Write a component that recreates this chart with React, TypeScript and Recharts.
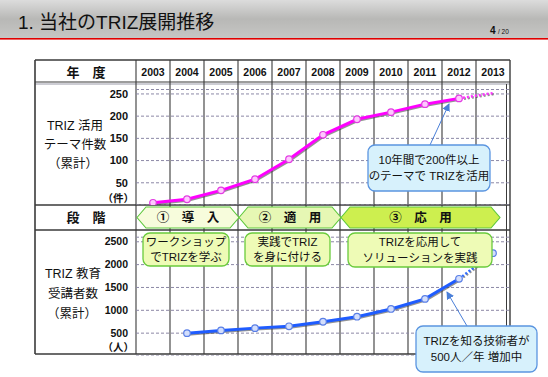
import React from 'react';
import { LineChart, Line, XAxis, YAxis, CartesianGrid } from 'recharts';

// 年度
const years = [2003, 2004, 2005, 2006, 2007, 2008, 2009, 2010, 2011, 2012, 2013];
// TRIZ 活用テーマ件数（累計）
const themeCount = [5, 13, 33, 58, 103, 158, 193, 209, 227, 240, null];
const themeForecast = [null, null, null, null, null, null, null, null, null, 240, 252];
const themeTicks = [50, 100, 150, 200, 250];
// TRIZ 教育受講者数（累計）
const trainees = [null, 500, 560, 610, 650, 750, 860, 1030, 1250, 1690, null];
const traineeForecast = [null, null, null, null, null, null, null, null, null, 1690, 2250];
const traineeTicks = [500, 1000, 1500, 2000, 2500];

const phases = [
  { label: '①　導　入', from: 2003, to: 2005, fill: '#f7fcdc' },
  { label: '②　適　用', from: 2006, to: 2008, fill: '#e6f7b4' },
  { label: '③　応　用', from: 2009, to: 2013, fill: '#cdef4f' },
];

const topData = years.map((y, i) => ({ year: y, count: themeCount[i], forecast: themeForecast[i] }));
const bottomData = years.map((y, i) => ({ year: y, people: trainees[i], forecast: traineeForecast[i] }));

const FONT = "Arial, 'Liberation Sans', 'Noto Sans CJK JP', sans-serif";
const COL_W = 34;
const PLOT_L = 136;
const colX = (i: number) => PLOT_L + i * COL_W;

const tickStyle = { fontSize: 10.5, fontWeight: 700, fill: '#111', fontFamily: FONT };

const Box = ({ x, y, w, h, lines, fill, stroke }: any) => (
  <g>
    <rect x={x} y={y} width={w} height={h} rx={7} fill={fill} stroke={stroke} strokeWidth={1.3} />
    {lines.map((t: string, i: number) => (
      <text key={i} x={x + w / 2} y={y + h / 2 + (i - (lines.length - 1) / 2) * 15.5 + 4} textAnchor="middle" fontSize={11.5} fill="#111">
        {t}
      </text>
    ))}
  </g>
);

const blueDot = (p: any) => {
  if (p.index !== years.length - 1 || p.cy == null) return <g key={p.index} />;
  return <circle key={p.index} cx={p.cx} cy={p.cy} r={3.3} fill="#d3defc" stroke="#5a7fe6" strokeWidth={1.2} />;
};

export default function App() {
  return (
    <div style={{ position: 'absolute', left: 0, top: 0, width: 548, height: 377, background: '#fff', overflow: 'hidden', fontFamily: FONT }}>
      <style>{`.shadowed path, .shadowed circle { filter: drop-shadow(1px 1.5px 0.6px rgba(60,60,60,0.55)); }`}</style>
      <svg width={548} height={377} style={{ position: 'absolute', left: 0, top: 0 }} fontFamily={FONT}>
        <defs>
          <linearGradient id="bar" x1="0" y1="0" x2="0" y2="1">
            <stop offset="0" stopColor="#dcdcdc" />
            <stop offset="0.5" stopColor="#b8b8b6" />
            <stop offset="1" stopColor="#c6c6c4" />
          </linearGradient>
        </defs>
        <rect x={0} y={0} width={548} height={38} fill="url(#bar)" />
        <rect x={0} y={38} width={548} height={1.6} fill="#e00000" />
        <text x={18} y={29} fontSize={19} fill="#111">1. 当社のTRIZ展開推移</text>
        <text x={490} y={34} fontSize={10} fontWeight={700} fill="#111">4</text>
        <text x={498} y={34} fontSize={6.5} fill="#111">/ 20</text>

        {/* table rows */}
        {[60, 205, 230, 354].map((y) => (
          <line key={y} x1={35} x2={510} y1={y} y2={y} stroke="#3a3a3a" strokeWidth={1.4} />
        ))}
        <line x1={35} x2={510} y1={82} y2={82} stroke="#3a3a3a" strokeWidth={1.2} />
        <line x1={35} x2={510} y1={84} y2={84} stroke="#9a9aa8" strokeWidth={1} />
        <line x1={35} x2={35} y1={60} y2={354} stroke="#3a3a3a" strokeWidth={1.6} />
        <line x1={510} x2={510} y1={60} y2={354} stroke="#3a3a3a" strokeWidth={1.4} />
        <line x1={506.5} x2={506.5} y1={84} y2={354} stroke="#3a3a3a" strokeWidth={1} />
        {years.map((y, i) => (
          <line key={y} x1={colX(i)} x2={colX(i)} y1={60} y2={354} stroke="#3a3a3a" strokeWidth={1.1} />
        ))}
        {years.map((y, i) => (
          <text key={y} x={colX(i) + COL_W / 2} y={76} textAnchor="middle" fontSize={10.5} fontWeight={700} fill="#111">{y}</text>
        ))}
        <text x={86} y={77} textAnchor="middle" fontSize={13} fontWeight={700} fill="#111">年　度</text>
        <text x={86} y={222} textAnchor="middle" fontSize={13} fontWeight={700} fill="#111">段　階</text>

        <text x={75} y={130} textAnchor="middle" fontSize={12.5} fill="#111">TRIZ 活用</text>
        <text x={75} y={149} textAnchor="middle" fontSize={12.5} fill="#111">テーマ件数</text>
        <text x={73} y={168} textAnchor="middle" fontSize={12.5} fill="#111">（累計）</text>
        <text x={73} y={278} textAnchor="middle" fontSize={12.5} fill="#111">TRIZ 教育</text>
        <text x={73} y={298} textAnchor="middle" fontSize={12.5} fill="#111">受講者数</text>
        <text x={72} y={318} textAnchor="middle" fontSize={12.5} fill="#111">（累計）</text>

        {phases.map((p) => {
          const x0 = colX(years.indexOf(p.from)) + 1;
          const x1 = p.to === 2013 ? 500 : colX(years.indexOf(p.to) + 1) + 1;
          const t = 207, b = 228, m = (t + b) / 2, n = 9;
          return (
            <g key={p.label}>
              <polygon
                points={`${x0},${m} ${x0 + n},${t} ${x1 - n},${t} ${x1},${m} ${x1 - n},${b} ${x0 + n},${b}`}
                fill={p.fill}
                stroke="#5cc83a"
                strokeWidth={1.1}
              />
              <text x={(x0 + x1) / 2} y={m + 4.5} textAnchor="middle" fontSize={12.5} fontWeight={700} fill="#111">{p.label}</text>
            </g>
          );
        })}
      </svg>

      <div style={{ position: 'absolute', left: 0, top: 83 }}>
        <LineChart width={548} height={122} data={topData} margin={{ top: 6.5, right: 38, bottom: 0, left: 0 }}>
          <CartesianGrid vertical={false} stroke="#8c88a6" strokeDasharray="3 2" />
          <XAxis dataKey="year" type="number" domain={[2002.5, 2013.5]} hide />
          <YAxis type="number" domain={[0, 260]} ticks={themeTicks} width={136} tickLine={false} axisLine={false} tickMargin={2} tick={{ ...tickStyle, fontSize: 11 }} interval={0} />
          <Line className="shadowed" dataKey="forecast" stroke="#ff33ff" strokeWidth={2.5} strokeDasharray="2 2" dot={false} isAnimationActive={false} />
          <Line
            className="shadowed"
            dataKey="count"
            stroke="#ff00ff"
            strokeWidth={3}
            dot={{ r: 3.3, fill: '#ffc8ff', stroke: '#e23de2', strokeWidth: 1.2 }}
            isAnimationActive={false}
          />
        </LineChart>
      </div>

      <div style={{ position: 'absolute', left: 0, top: 230 }}>
        <LineChart width={548} height={126} data={bottomData} margin={{ top: 7.2, right: 38, bottom: 0, left: 0 }}>
          <CartesianGrid vertical={false} stroke="#8c88a6" strokeDasharray="3 2" />
          <XAxis dataKey="year" type="number" domain={[2002.5, 2013.5]} hide />
          <YAxis type="number" domain={[0, 2600]} ticks={traineeTicks} width={136} tickLine={false} axisLine={false} tickMargin={2} tick={tickStyle} interval={0} />
          <Line className="shadowed" dataKey="forecast" stroke="#2f6bff" strokeWidth={2.5} strokeDasharray="2 2" dot={blueDot} isAnimationActive={false} />
          <Line
            className="shadowed"
            dataKey="people"
            stroke="#1f5cff"
            strokeWidth={3}
            dot={{ r: 3.3, fill: '#d3defc', stroke: '#5a7fe6', strokeWidth: 1.2 }}
            isAnimationActive={false}
          />
        </LineChart>
      </div>

      <svg width={548} height={377} style={{ position: 'absolute', left: 0, top: 0, pointerEvents: 'none' }} fontFamily={FONT}>
        <defs>
          <marker id="arr" markerWidth="8" markerHeight="8" refX="7" refY="4" orient="auto" markerUnits="userSpaceOnUse">
            <path d="M0,0 L8,4 L0,8 Z" fill="#4a7fd8" />
          </marker>
        </defs>
        <text x={134} y={202} textAnchor="end" fontSize={10.5} fontWeight={700} fill="#111">（件）</text>
        <text x={134} y={351} textAnchor="end" fontSize={10.5} fontWeight={700} fill="#111">（人）</text>

        <Box x={143} y={233} w={86} h={33} lines={['ワークショップ', 'でTRIZを学ぶ']} fill="#eefbb6" stroke="#6acb3c" />
        <Box x={245} y={233} w={85} h={33} lines={['実践でTRIZ', 'を身に付ける']} fill="#eefbb6" stroke="#6acb3c" />
        <Box x={348} y={233} w={144} h={34} lines={['TRIZを応用して', 'ソリューションを実践']} fill="#eefbb6" stroke="#6acb3c" />

        <line x1={430} y1={145} x2={449} y2={104} stroke="#4a7fd8" strokeWidth={1} markerEnd="url(#arr)" />
        <Box x={368} y={145} w={122} h={46} lines={['10年間で200件以上', 'のテーマで TRIZを活用']} fill="#d7f1fc" stroke="#5b95e0" />

        <line x1={467} y1={326} x2={447} y2={292} stroke="#4a7fd8" strokeWidth={1} markerEnd="url(#arr)" />
        <Box x={416} y={326} w={121} h={46} lines={['TRIZを知る技術者が', '500人／年 増加中']} fill="#d7f1fc" stroke="#5b95e0" />
      </svg>
    </div>
  );
}
